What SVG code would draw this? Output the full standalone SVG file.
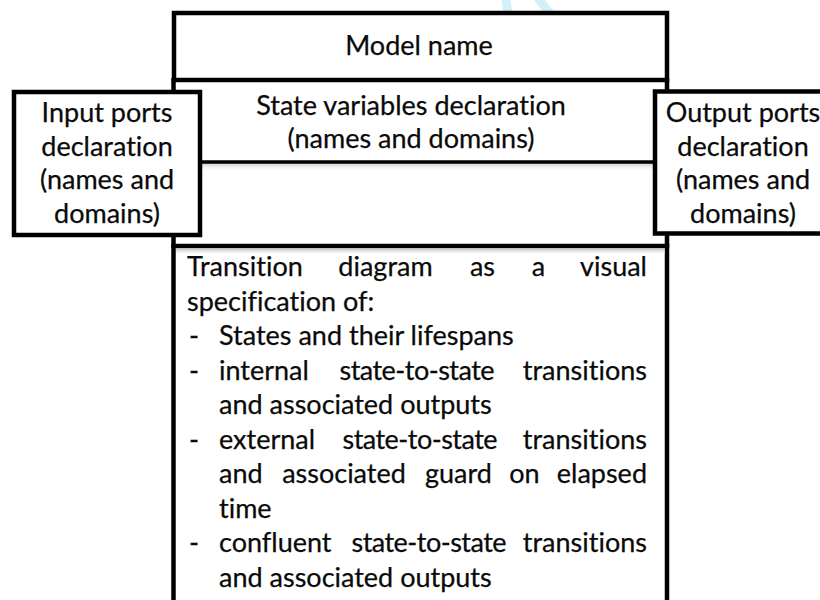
<svg xmlns="http://www.w3.org/2000/svg" width="820" height="600" viewBox="0 0 820 600">
  <defs>
    <linearGradient id="shadeDown" x1="0" y1="0" x2="0" y2="1">
      <stop offset="0" stop-color="#bdbdbd"/>
      <stop offset="1" stop-color="#ffffff" stop-opacity="0"/>
    </linearGradient>
    <style>
      .box { fill: #ffffff; stroke: #000000; stroke-width: 4.5; }
      .rule { stroke: #000000; stroke-width: 3.5; fill: none; }
      .side { stroke: #000000; stroke-width: 4.5; fill: none; }
      text { font-family: Lato, "Open Sans", "Liberation Sans", sans-serif; font-size: 27px; fill: #0a0a0a;
             stroke: #0a0a0a; stroke-width: 0.25;
             font-variant-ligatures: none; font-feature-settings: "liga" 0, "clig" 0; }
      .c { text-anchor: middle; }
      .e { text-anchor: end; }
    </style>
  </defs>

  <rect width="820" height="600" fill="#ffffff"/>

  <!-- faint mark at the top edge -->
  <g id="mark" fill="none" stroke="#d4eefa" stroke-linecap="round">
    <path d="M 506 -4 Q 506 22 524 36" stroke-width="9"/>
    <path d="M 538 -2 Q 548 12 556 20" stroke-width="9"/>
  </g>

  <!-- central column: model name, state variables, spacer -->
  <g id="column">
    <line class="side" x1="173.5" y1="78" x2="173.5" y2="248"/>
    <line class="side" x1="667" y1="78" x2="667" y2="248"/>
    <rect x="174" y="162" width="493" height="10" fill="url(#shadeDown)"/>
    <line class="rule" x1="174" y1="162" x2="667" y2="162"/>
  </g>

  <g id="model-name">
    <rect class="box" x="174" y="13" width="493" height="67"/>
    <text class="c" x="419" y="55">Model name</text>
  </g>

  <g id="state-variables">
    <text class="c" x="411" y="115">State variables declaration</text>
    <text class="c" x="411" y="148">(names and domains)</text>
  </g>

  <!-- justified lines: first word left, last word right, inner words centred on their slots -->
  <g id="transition-diagram">
    <rect class="box" x="173.5" y="246" width="493.5" height="360"/>
    <rect x="176" y="248.5" width="489" height="7" fill="url(#shadeDown)"/>
    <text x="187" y="276">Transition</text>
    <text class="c" x="385.5" y="276">diagram</text>
    <text class="c" x="482.5" y="276">as</text>
    <text class="c" x="538.5" y="276">a</text>
    <text class="e" x="647" y="276">visual</text>

    <text x="187" y="310.5">specification of:</text>

    <text x="189" y="345">-</text>
    <text x="219" y="345">States and their lifespans</text>

    <text x="189" y="379.5">-</text>
    <text x="219" y="379.5">internal</text>
    <text class="c" x="417" y="379.5" textLength="155" lengthAdjust="spacing">state-to-state</text>
    <text class="e" x="647" y="379.5">transitions</text>
    <text x="219" y="414">and associated outputs</text>

    <text x="189" y="448.5">-</text>
    <text x="219" y="448.5">external</text>
    <text class="c" x="420" y="448.5" textLength="155" lengthAdjust="spacing">state-to-state</text>
    <text class="e" x="647" y="448.5">transitions</text>
    <text x="219" y="483">and</text>
    <text class="c" x="344" y="483">associated</text>
    <text class="c" x="458.5" y="483">guard</text>
    <text class="c" x="524.5" y="483">on</text>
    <text class="e" x="647" y="483">elapsed</text>
    <text x="219" y="517.5">time</text>

    <text x="189" y="552">-</text>
    <text x="219" y="552">confluent</text>
    <text class="c" x="429" y="552" textLength="155" lengthAdjust="spacing">state-to-state</text>
    <text class="e" x="647" y="552">transitions</text>
    <text x="219" y="586.5">and associated outputs</text>
  </g>

  <g id="input-ports">
    <rect class="box" x="14" y="92" width="186" height="143"/>
    <text class="c" x="107" y="122">Input ports</text>
    <text class="c" x="107" y="155.7">declaration</text>
    <text class="c" x="107" y="189.3">(names and</text>
    <text class="c" x="107" y="223">domains)</text>
  </g>

  <g id="output-ports">
    <rect class="box" x="655" y="91.5" width="180" height="142"/>
    <text class="c" x="743" y="122">Output ports</text>
    <text class="c" x="743" y="155.7">declaration</text>
    <text class="c" x="743" y="189.3">(names and</text>
    <text class="c" x="743" y="223">domains)</text>
  </g>
</svg>
